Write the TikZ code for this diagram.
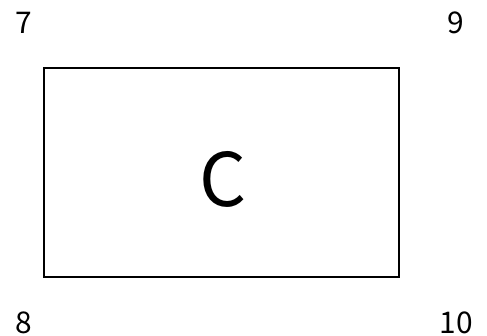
\documentclass[tikz,border=0pt]{standalone}
\usepackage{fontspec}
\setmainfont{Noto Sans CJK JP}
\begin{document}
\begin{tikzpicture}[
  corner/.style={anchor=base, font=\fontsize{17}{20}\selectfont},
  block/.style={draw, line width=1.2pt, minimum width=7.1cm, minimum height=4.18cm}]
\useasboundingbox (0,0) rectangle (9.74,6.7);

\node[block] (box) at (4.43,3.25) {};
\node[anchor=base, font=\fontsize{42}{48}\selectfont] (lab) at (4.47,2.56) {C};

\node[corner] (tl) at (0.47,6.02) {7};
\node[corner] (tr) at (9.12,6.02) {9};
\node[corner] (bl) at (0.47,0.04) {8};
\node[corner] (br) at (9.13,0.04) {10};
\end{tikzpicture}
\end{document}
